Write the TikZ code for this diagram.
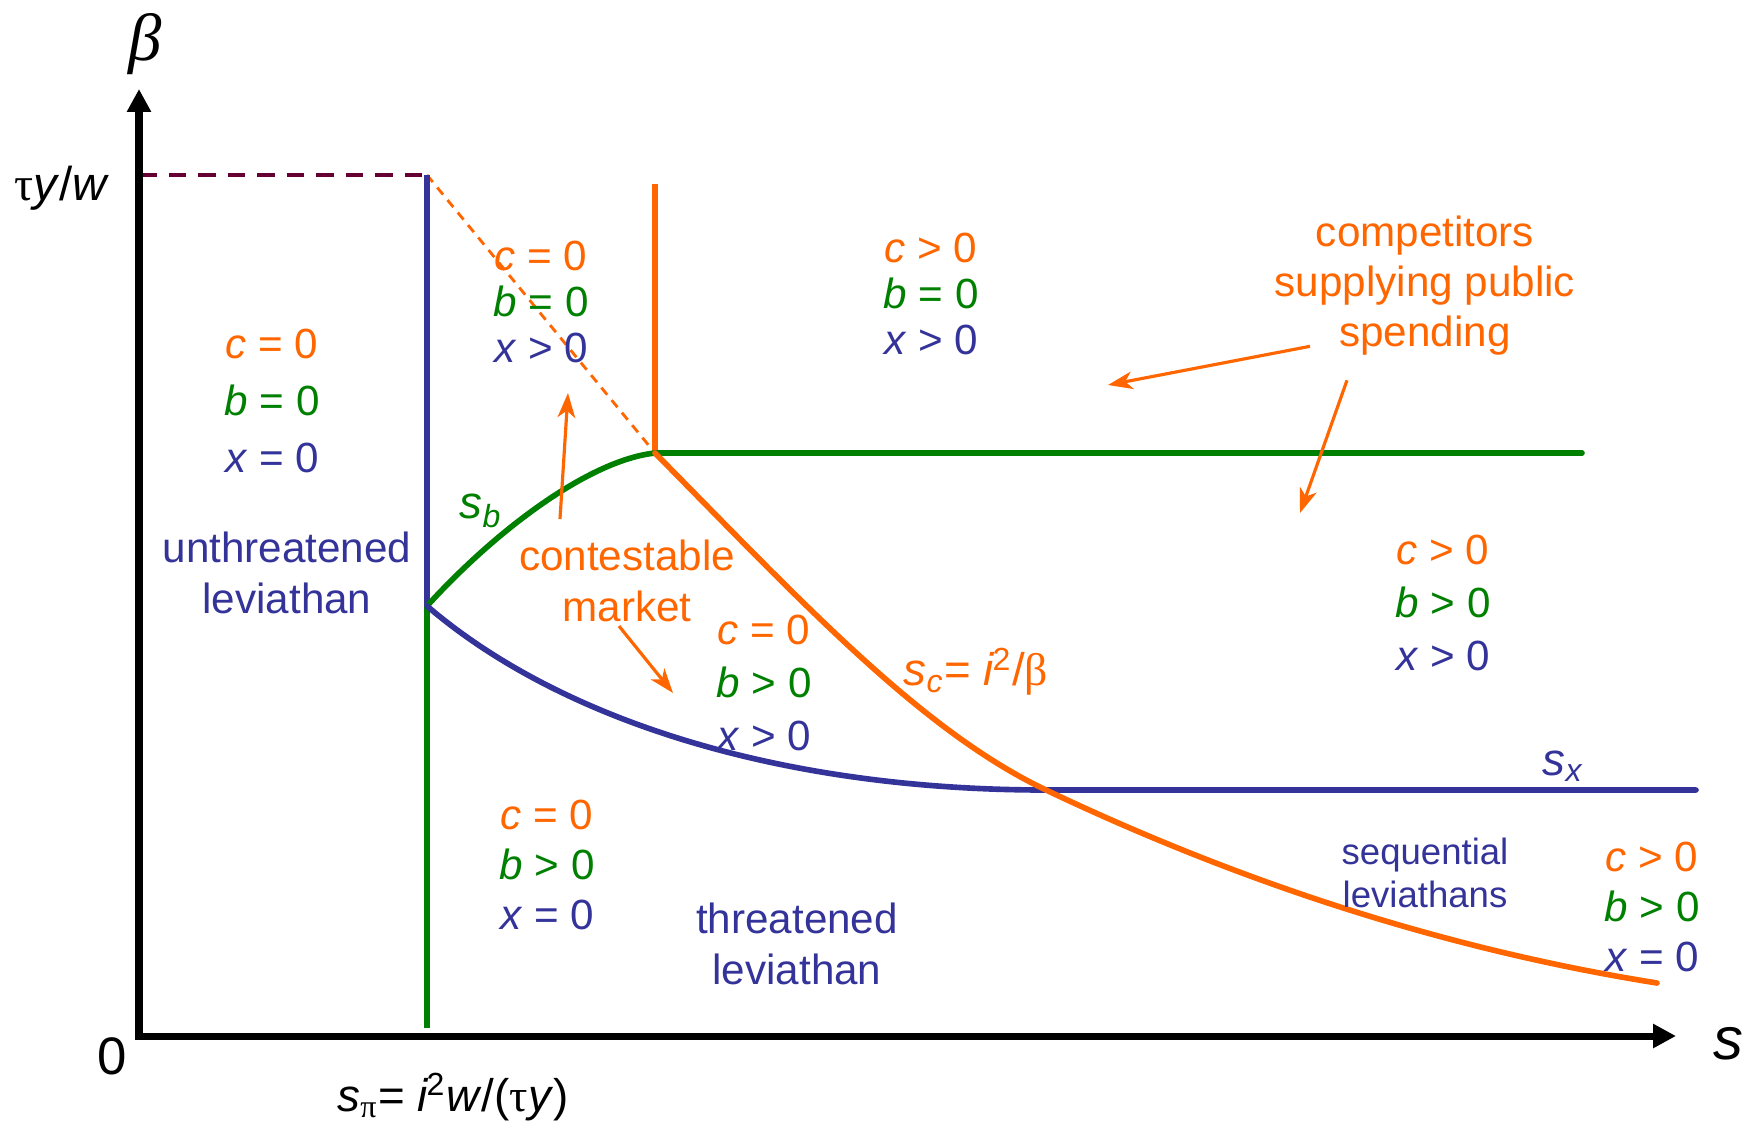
\documentclass[tikz,border=0pt]{standalone}
\usepackage{fontspec}
\setmainfont{Liberation Sans}
\newfontfamily\greekfont{Liberation Serif}
\usetikzlibrary{arrows.meta,positioning,calc}
\usepackage{xcolor}
\definecolor{lvorange}{RGB}{255,102,0}
\definecolor{lvgreen}{RGB}{0,128,0}
\definecolor{lvblue}{RGB}{51,51,153}
\definecolor{lvmaroon}{RGB}{102,0,51}
\newcommand{\cval}[1]{\textcolor{lvorange}{\textit{c}\ #1\ 0}}
\newcommand{\bval}[1]{\textcolor{lvgreen}{\textit{b}\ #1\ 0}}
\newcommand{\xval}[1]{\textcolor{lvblue}{\textit{x}\ #1\ 0}}
\tikzset{
    region/.style={
        align=center,inner sep=0pt,
        font=\fontsize{12}{#1}\selectfont
    },
    region/.default=15pt,
    tag/.style={
        align=center,inner sep=0pt,text=#1,
        font=\fontsize{12}{14.7}\selectfont
    },
    tag/.default=lvblue,
    curvelab/.style={
        inner sep=0pt,text=#1,font=\fontsize{13}{15}\selectfont
    },
    curve/.style={
        draw=#1,line width=1.6pt,line cap=round
    },
    curve/.default=lvblue,
    note/.style={
        -{Stealth[length=7pt,width=5pt,inset=2pt]},line width=0.9pt,draw=lvorange
    },
    axis/.style={
        {Triangle[length=6.5pt,width=6.5pt]}-{Triangle[length=6.5pt,width=6.5pt]},
        line width=2pt
    }
}

\begin{document}
\begin{tikzpicture}[x=0.01cm,y=-0.01cm]
\useasboundingbox (0,0) rectangle (1750,1123);

\coordinate (origin) at (139,1036);
\coordinate (ytip) at (139,89);
\coordinate (xtip) at (1676,1036);
\coordinate (top) at (427,175);
\coordinate (spi) at (427,606);
\coordinate (kink) at (655,453);
\coordinate (cross) at (1046,790);

\draw[lvmaroon,line width=1.2pt,dash pattern=on 5pt off 3.4pt] (origin |- top) -- (top);
\draw[lvorange,line width=0.8pt,dash pattern=on 2.6pt off 2pt] (top) -- (kink);
\draw[curve=lvblue,line width=1.45pt,line cap=butt] (top) -- (spi);
\draw[curve=lvgreen,line width=1.45pt,line cap=butt] (spi) -- (427,1028);
\draw[curve=lvorange,line width=1.45pt,line cap=butt] (655,184) -- (kink);
\draw[curve=lvgreen] (kink) -- (1582,453);
\draw[curve=lvgreen] (spi) .. controls (497,529) and (590,460) .. (kink);
\draw[curve=lvblue] (spi) .. controls (560,720) and (780,790) .. (cross) -- (1696,790);
\draw[curve=lvorange] (kink) .. controls (800,600) and (920,730) .. (cross)
    .. controls (1246,885) and (1450,950) .. (1657,983);
\draw[axis] (ytip) -- (origin) -- (xtip);

\node[font=\fontsize{19}{22}\selectfont\greekfont\itshape,inner sep=0pt] (betalab) at (145,44) {β};
\node[font=\fontsize{13.5}{16}\selectfont,inner sep=0pt] (taulab) at (62,188)
{{\greekfont τ}\textit{y}/\textit{w}};
\node[font=\fontsize{15}{18}\selectfont,inner sep=0pt] (zerolab) at (112,1056) {0};
\node[font=\fontsize{17}{20}\selectfont\itshape,inner sep=0pt] (slab) at (1728,1044) {s};
\node[curvelab=black] (spilab) at (453,1097)
{\textit{s}\textsubscript{\greekfont π}= \textit{i}\kern-0.05em\textsuperscript{2}\textit{w}/({\greekfont τ}\textit{y})};

\node[region=16.2pt] (unthr) at (272,401) {\cval{=}\\\bval{=}\\\xval{=}};
\node[region=13pt] (contup) at (541,302) {\cval{=}\\\bval{=}\\\xval{>}};
\node[region=13pt] (compup) at (931,294) {\cval{>}\\\bval{=}\\\xval{>}};
\node[region=15pt] (compmid) at (1443,603) {\cval{>}\\\bval{>}\\\xval{>}};
\node[region=15pt] (contdn) at (764,683) {\cval{=}\\\bval{>}\\\xval{>}};
\node[region=14.3pt] (thr) at (547,865) {\cval{=}\\\bval{>}\\\xval{=}};
\node[region=14.3pt] (seq) at (1652,907) {\cval{>}\\\bval{>}\\\xval{=}};

\node[tag] (unthrlab) at (287,573) {unthreatened\\leviathan};
\node[tag] (thrlab) at (797,944) {threatened\\leviathan};
\node[tag,font=\fontsize{10.4}{12.2}\selectfont] (seqlab) at (1425,873)
{sequential\\leviathans};
\node[tag=lvorange] (cmkt) at (627,581) {contestable\\market};
\node[tag=lvorange,font=\fontsize{12}{14.2}\selectfont] (comp) at (1425,286)
{competitors\\supplying public\\spending};

\node[curvelab=lvgreen] (sblab) at (481,511) {\textit{s}\textsubscript{\itshape b}};
\node[curvelab=lvblue] (sxlab) at (1563,766) {\textit{s}\textsubscript{\itshape x}};
\node[curvelab=lvorange] (sclab) at (976,672)
{\textit{s}\textsubscript{\itshape c}= \textit{i}\kern-0.05em\textsuperscript{2}/{\greekfont β}};

\coordinate (cmup) at (568,393);
\coordinate (cmdown) at (673,693);
\coordinate (compleft) at (1108,385);
\coordinate (compdown) at (1300,513);
\draw[note] ($(cmkt.north)+(-67,-20)$) -- (cmup);
\draw[note] ($(cmkt.south)+(-8,3)$) -- (cmdown);
\draw[note] ($(comp.south)+(-115,-10)$) -- (compleft);
\draw[note] ($(comp.south)+(-78,24)$) -- (compdown);

\end{tikzpicture}
\end{document}
